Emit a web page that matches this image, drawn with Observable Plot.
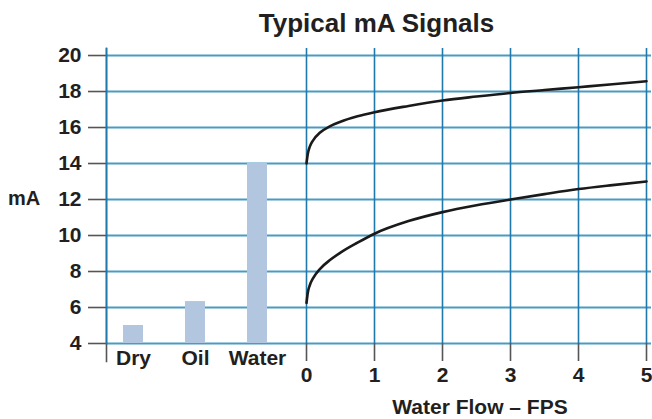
<!DOCTYPE html>
<html><head><meta charset="utf-8">
<script src="https://cdn.jsdelivr.net/npm/d3@7"></script>
<script src="https://cdn.jsdelivr.net/npm/@observablehq/plot@0.6"></script>
<style>
body{margin:0;background:#fff;}
#chart{position:relative;width:652px;height:419px;font-family:"Liberation Sans",Arial,sans-serif;font-weight:bold;color:#231f20;overflow:hidden;}
#chart svg{position:absolute;top:0;overflow:visible;}
.t{position:absolute;white-space:nowrap;}
</style></head><body>
<div id="chart">
  <div class="t" id="title" style="left:376.5px;top:10px;transform:translateX(-50%);font-size:26px;line-height:26px;">Typical mA Signals</div>
  <div class="t" style="left:8px;top:188px;font-size:20px;line-height:20px;">mA</div>
  <div class="t" style="left:480px;top:396px;transform:translateX(-50%);font-size:21px;line-height:21px;">Water Flow – FPS</div>
</div>
<script>
const categories = ["Dry", "Oil", "Water"];
const categoryValues = [5, 6.33, 14];
const flowFps = [0, 0.02, 0.05, 0.1, 0.2, 0.35, 0.5, 0.75, 1, 1.5, 2, 2.5, 3, 3.5, 4, 4.5, 5];
const upperSignal = [14.0, 14.55, 14.95, 15.3, 15.72, 16.08, 16.32, 16.62, 16.85, 17.2, 17.5, 17.72, 17.92, 18.08, 18.24, 18.4, 18.57];
const lowerSignal = [6.25, 6.85, 7.25, 7.65, 8.15, 8.65, 9.05, 9.6, 10.1, 10.8, 11.3, 11.68, 12.0, 12.3, 12.58, 12.8, 13.0];
const yTicks = [4, 6, 8, 10, 12, 14, 16, 18, 20];
const xTicks = [0, 1, 2, 3, 4, 5];

const gridH = "#4a9bc3";
const gridV = "#1f7aab";
const tickColor = "#555";
const ink = "#231f20";
const font = {fontFamily: '"Liberation Sans", Arial, sans-serif', fontSize: "21px", fontWeight: "bold", color: ink, background: "transparent", overflow: "visible"};

const bars = categories.map((c, i) => ({category: c, mA: categoryValues[i]}));
const upper = flowFps.map((x, i) => ({fps: x, mA: upperSignal[i]}));
const lower = flowFps.map((x, i) => ({fps: x, mA: lowerSignal[i]}));

const yDomain = [4, 20.39];

const left = Plot.plot({
  width: 306, height: 419,
  marginLeft: 106, marginRight: 0, marginTop: 48, marginBottom: 76,
  style: font,
  x: {type: "band", domain: categories, range: [123, 268.6], paddingInner: 0.68, paddingOuter: 0, align: 0},
  y: {domain: yDomain},
  marks: [
    Plot.ruleY(yTicks, {stroke: gridH, strokeWidth: 2}),
    Plot.barY(bars, {x: "category", y1: yTicks[0], y2: "mA", fill: "#b3c6df"}),
    Plot.axisY({ticks: yTicks, tickSize: 18, tickPadding: 7, stroke: tickColor, strokeWidth: 1.6, label: null, fill: ink, fontSize: 21}),
    Plot.axisX({tickSize: 0, tickPadding: 7, label: null, fill: ink, fontSize: 21}),
    Plot.frame({anchor: "left", stroke: tickColor, strokeWidth: 1.6, insetBottom: -18}),
    Plot.frame({anchor: "left", stroke: gridV, strokeWidth: 1.6})
  ]
});
left.style.left = "0px";

const right = Plot.plot({
  width: 356, height: 419,
  marginLeft: 10, marginRight: 6, marginTop: 48, marginBottom: 76,
  style: font,
  x: {domain: [0, 5]},
  y: {domain: yDomain, axis: null},
  marks: [
    Plot.ruleY(yTicks, {stroke: gridH, strokeWidth: 2, insetRight: -5}),
    Plot.ruleX(xTicks, {stroke: gridV, strokeWidth: 1.6}),
    Plot.axisX({ticks: xTicks, tickFormat: "d", tickSize: 18, tickPadding: 6, stroke: tickColor, strokeWidth: 1.6, label: null, fill: ink, fontSize: 21}),
    Plot.line(upper, {x: "fps", y: "mA", curve: "monotone-x", stroke: "#1a1a1a", strokeWidth: 2.6}),
    Plot.line(lower, {x: "fps", y: "mA", curve: "monotone-x", stroke: "#1a1a1a", strokeWidth: 2.6})
  ]
});
right.style.left = "296px";

const chart = document.getElementById("chart");
chart.appendChild(left);
chart.appendChild(right);
</script>
</body></html>
